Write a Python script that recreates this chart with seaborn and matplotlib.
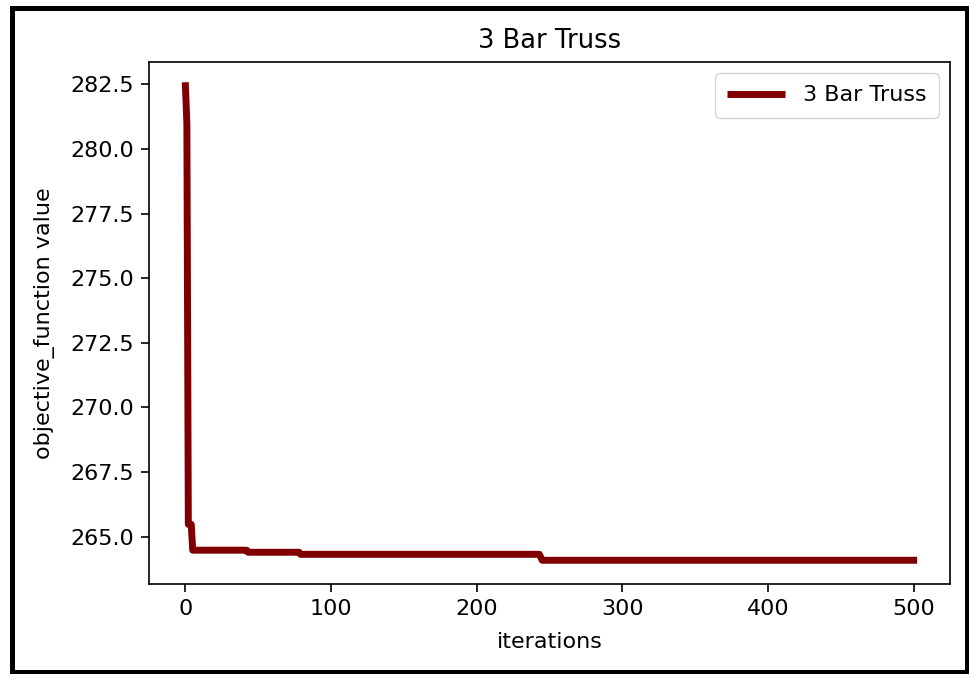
import matplotlib
matplotlib.use("Agg")
import matplotlib.pyplot as plt
from matplotlib.patches import Rectangle
import seaborn as sns
import pandas as pd

# Convergence history of the 3-bar truss optimisation (values where the best objective changes)
iterations = [0, 1, 2, 4, 5, 42, 43, 78, 79, 243, 245, 500]
objective = [282.45, 281.0, 265.47, 265.47, 264.47, 264.47, 264.39, 264.39,
             264.31, 264.31, 264.08, 264.08]
series_name = "3 Bar Truss"
title = "3 Bar Truss"
x_label = "iterations"
y_label = "objective_function value"

sns.set_style("ticks", {"axes.edgecolor": "black", "text.color": "black",
                        "axes.labelcolor": "black", "xtick.color": "black",
                        "ytick.color": "black"})
plt.rcParams["font.family"] = ["DejaVu Sans"]
plt.rcParams["font.size"] = 16
plt.rcParams["lines.solid_capstyle"] = "projecting"

df = pd.DataFrame({"iterations": iterations, "objective": objective})

fig = plt.figure(figsize=(9.7, 6.74), dpi=100)
W, H = 970, 674
ax = fig.add_axes([149 / W, 1 - 584 / H, (950 - 149) / W, (584 - 62) / H])

sns.lineplot(data=df, x="iterations", y="objective", color="maroon",
             linewidth=5, label=series_name, ax=ax,
             solid_capstyle="projecting")

yticks = [265.0, 267.5, 270.0, 272.5, 275.0, 277.5, 280.0, 282.5]
ax.set_xticks([0, 100, 200, 300, 400, 500])
ax.set_yticks(yticks)
ax.set_yticklabels([f"{v:.1f}" for v in yticks])
ax.tick_params(labelsize=16, length=6, width=1.2, direction="out", pad=5)
for s in ax.spines.values():
    s.set_linewidth(1.2)
    s.set_color("black")

ax.set_title(title, fontsize=18.5, pad=10)
ax.set_xlabel(x_label, fontsize=16, labelpad=9)
ax.set_ylabel(y_label, fontsize=16, labelpad=11)

leg = ax.legend(loc="upper right", fontsize=16, handlelength=2.6,
                borderpad=0.55, frameon=True, fancybox=True)
leg.get_frame().set_edgecolor("#cccccc")
for line in leg.get_lines():
    line.set_solid_capstyle("butt")

# black frame around the whole figure
fig.patches.append(Rectangle((12 / W, 1 - 671.5 / H), (967.5 - 12) / W, (671.5 - 7.5) / H,
                             transform=fig.transFigure, fill=False,
                             edgecolor="black", linewidth=3.6, zorder=10))

fig.savefig("out.png", dpi=100)
